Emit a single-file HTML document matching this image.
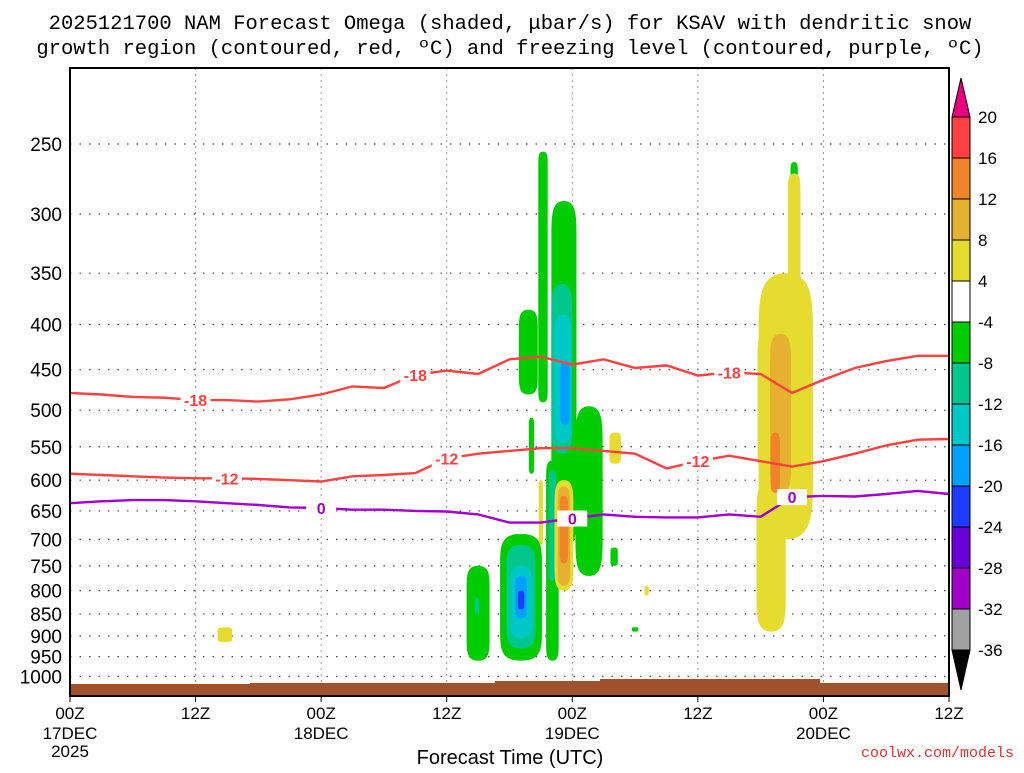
<!DOCTYPE html>
<html><head><meta charset="utf-8"><style>
body{margin:0;background:#fff;width:1024px;height:768px;overflow:hidden}
svg text{font-family:"Liberation Sans",sans-serif}
</style></head><body>
<svg id="chart" width="1024" height="768" viewBox="0 0 1024 768" xmlns="http://www.w3.org/2000/svg">
<text x="510" y="29" text-anchor="middle" style="font-family:'Liberation Mono',monospace;font-size:20.5px">2025121700 NAM Forecast Omega (shaded, μbar/s) for KSAV with dendritic snow</text>
<text x="510" y="54" text-anchor="middle" style="font-family:'Liberation Mono',monospace;font-size:20.5px">growth region (contoured, red, ºC) and freezing level (contoured, purple, ºC)</text>
<g id="grid"></g>
<g id="shade"></g>
<g id="ground"></g>
<g id="lines"></g>
<g id="axes"></g>
<g id="cbar"></g>
<text x="510" y="764" text-anchor="middle" font-size="20">Forecast Time (UTC)</text>
<text x="1014" y="757" text-anchor="end" font-size="15" fill="#e03030" style="font-family:'Liberation Mono',monospace">coolwx.com/models</text>
</svg>
<script>
const pTicks=[250,300,350,400,450,500,550,600,650,700,750,800,850,900,950,1000];
const xHours=[0,12,24,36,48,60,72,84];
const xLab1=["00Z","12Z","00Z","12Z","00Z","12Z","00Z","12Z"];
const xLab2=["17DEC","","18DEC","","19DEC","","20DEC",""];
const cLevels=[20,16,12,8,4,-4,-8,-12,-16,-20,-24,-28,-32,-36];
const cColors=["#ff4040","#f08428","#e6b030","#e6dc30","#ffffff","#00cc00","#00c88c","#00c8c8","#00a0ff","#1e3cff","#6a00d8","#a000c8","#a0a0a0"];
const hours=[0,3,6,9,12,15,18,21,24,27,30,33,36,39,42,45,48,51,54,57,60,63,66,69,72,75,78,81,84];
const frz=[637,634,632,632,634,637,640,644,645,648,648,650,651,656,670,670,663,656,660,661,661,656,660,627,625,626,622,617,622];
const m18=[478,480,483,484,487,487,489,486,480,470,472,456,451,455,438,435,444,438,448,445,457,453,455,478,462,448,440,434,434];
const m12=[590,592,594,596,597,597,598,600,602,594,592,589,567,560,556,552,552,556,560,582,571,563,571,579,571,560,548,540,539];
// blobs: [hour, pTop, pBottom, halfWidthHours, colorIndex]
const blobs=[
[45.2,255,490,0.45,5],[43.8,385,480,0.9,5],[44.1,510,590,0.25,5],
[47.2,290,715,1.2,5],[49.6,495,770,1.3,5],[46.1,570,960,0.6,5],
[47.0,360,560,1.0,6],[47.1,390,545,0.8,7],[47.3,440,520,0.45,8],[46.1,585,780,0.35,6],
[47.2,600,800,0.9,3],[47.2,610,790,0.6,2],[47.2,625,745,0.4,1],
[45.0,600,710,0.2,3],[52.1,530,575,0.55,3],[52.0,715,750,0.35,5],[55.1,790,810,0.2,3],[54.0,880,890,0.3,5],
[39.0,750,960,1.1,5],[38.9,815,850,0.2,6],
[43.1,690,960,2.0,5],[43.1,710,930,1.4,6],[43.1,750,905,1.0,7],[43.1,770,860,0.55,8],[43.1,800,840,0.3,9],
[69.2,262,305,0.35,5],
[69.2,270,370,0.6,3],[68.4,350,700,2.6,3],[67.0,600,890,1.4,3],[67.0,400,600,1.3,3],
[67.9,410,620,1.0,2],[67.4,530,620,0.45,1],[14.8,880,915,0.7,3]
];
const X0=70,X1=949,Y0=68,Y1=696;
const xs=h=>X0+h*(X1-X0)/84;
const ys=p=>144+384*Math.log(p/250);
const NS="http://www.w3.org/2000/svg";
function mk(tag,par,at){const e=document.createElementNS(NS,tag);for(const k in at)e.setAttribute(k,at[k]);document.getElementById(par).appendChild(e);return e;}
// grid
pTicks.forEach(p=>{const l=mk('line','grid',{x1:X0,x2:X1,y1:ys(p),y2:ys(p),stroke:'#444','stroke-dasharray':'1.5 8','stroke-width':1.2});


const t=mk('text','axes',{x:62,y:ys(p)+7,'text-anchor':'end','font-size':19});t.textContent=p;

});
xHours.forEach((h,i)=>{if(h>0&&h<84){const l=mk('line','grid',{x1:xs(h),x2:xs(h),y1:Y0,y2:Y1,stroke:'#999','stroke-dasharray':'2 4','stroke-width':1});

}
const t=mk('text','axes',{x:xs(h),y:719,'text-anchor':'middle','font-size':17});t.textContent=xLab1[i];


if(xLab2[i]){const t2=mk('text','axes',{x:xs(h),y:739,'text-anchor':'middle','font-size':17});t2.textContent=xLab2[i];

}
const tk=mk('line','axes',{x1:xs(h),x2:xs(h),y1:Y1,y2:Y1+6,stroke:'#000'});

});
const yr=mk('text','axes',{x:xs(0),y:757,'text-anchor':'middle','font-size':17});yr.textContent="2025";


// blobs (boxy rounded shapes)
blobs.forEach((b,i)=>{const cx=xs(b[0]),y1=ys(b[1]),y2=ys(b[2]),w=b[3]*(X1-X0)/84;const r=(y2-y1)/2;
const k=Math.min(r*0.5,w*3);
const d=`M${cx},${y1} C${cx+w},${y1} ${cx+w},${y1+k*0.4} ${cx+w},${y1+k} L${cx+w},${y2-k} C${cx+w},${y2-k*0.4} ${cx+w},${y2} ${cx},${y2} C${cx-w},${y2} ${cx-w},${y2-k*0.4} ${cx-w},${y2-k} L${cx-w},${y1+k} C${cx-w},${y1+k*0.4} ${cx-w},${y1} ${cx},${y1}Z`;
const e=mk('path','shade',{d:d,fill:cColors[b[4]]});

});
// ground
const gr=mk('path','ground',{d:`M${X0},${Y1} L${X0},684 L250,684 L250,683 L495,683 L495,681 L600,681 L600,679 L820,679 L820,683 L${X1},683 L${X1},${Y1}Z`,fill:'#a0522d'});


// lines
function line(arr,col,name){const d=arr.map((p,i)=>(i?'L':'M')+xs(hours[i]).toFixed(1)+','+ys(p).toFixed(1)).join(' ');
const e=mk('path','lines',{d:d,fill:'none',stroke:col,'stroke-width':2.4});

}
line(m18,'#ff4040','contour-minus18');line(m12,'#ff4040','contour-minus12');line(frz,'#a000d0','freezing-level');
function lab(h,arr,txt,col){const i=hours.indexOf(h);const x=xs(h),y=ys(arr[i]);
const r=mk('rect','lines',{x:x-15,y:y-8,width:30,height:16,fill:'#fff'});


const t=mk('text','lines',{x:x,y:y+6,'text-anchor':'middle','font-size':16,'font-weight':'bold',fill:col});t.textContent=txt;

}
lab(12,m18,'-18','#ff4040');lab(33,m18,'-18','#ff4040');lab(63,m18,'-18','#ff4040');
lab(15,m12,'-12','#ff4040');lab(36,m12,'-12','#ff4040');lab(60,m12,'-12','#ff4040');
lab(24,frz,'0','#a000d0');lab(48,frz,'0','#a000d0');lab(69,frz,'0','#a000d0');
// frame
const fr=mk('rect','axes',{x:X0,y:Y0,width:X1-X0,height:Y1-Y0,fill:'none',stroke:'#000','stroke-width':2});


// colorbar
const CB0=117,CBs=41,cx0=952,cw=18;
cColors.forEach((c,i)=>{const r=mk('rect','cbar',{x:cx0,y:CB0+i*CBs,width:cw,height:CBs,fill:c,stroke:'#000','stroke-width':1});

});
cLevels.forEach((v,i)=>{const t=mk('text','cbar',{x:978,y:CB0+i*CBs+6,'font-size':17});t.textContent=v;

});
const bot=CB0+13*CBs;
const t1=mk('path','cbar',{d:`M${cx0},${CB0} L${cx0+cw/2},78 L${cx0+cw},${CB0}Z`,fill:'#e8007f',stroke:'#000'});


const t2=mk('path','cbar',{d:`M${cx0},${bot} L${cx0+cw/2},${bot+40} L${cx0+cw},${bot}Z`,fill:'#000',stroke:'#000'});


</script>
</body></html>
